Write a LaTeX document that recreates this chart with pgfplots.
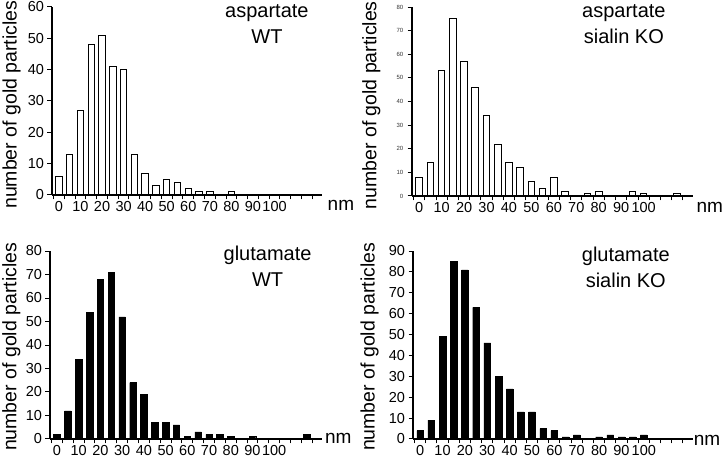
\documentclass[border=0pt]{standalone}
\usepackage{fontspec}
\setmainfont{Liberation Sans}
\usepackage{pgfplots}
\pgfplotsset{compat=1.18}
\pgfplotsset{
  histo/.style={
    scale only axis, anchor=south west,
    axis lines*=left,
    axis line style={line width=1.2pt, -},
    xmin=-3.2, xmax=122, ymin=0,
    enlargelimits=false,
    xtick={0,10,...,100},
    minor xtick={-2.5,2.5,...,117.5},
    major x tick style={draw=none},
    tick align=outside,
    major tick length=4.5pt, minor tick length=4.5pt,
    tick style={black, line width=1pt},
    /pgf/number format/assume math mode=true,
    ticklabel style={font=\fontsize{14.5}{16}\selectfont},
    xticklabel style={inner sep=0pt, yshift=-1.5pt},
    ylabel={number of gold particles},
    ylabel style={font=\fontsize{19.5}{22}\selectfont, at={(axis description cs:-0.15,0.48)}, anchor=center},
    ybar, bar width=3,
    clip=false,
  },
  openbar/.style={draw=black, fill=white, line width=1pt},
  solidbar/.style={draw=black, fill=black, line width=0.4pt},
}
\begin{document}
\begin{tikzpicture}
\useasboundingbox (0,0) rectangle (724pt,460pt);
% aspartate WT
\begin{axis}[histo, at={(52pt,265pt)}, width=270pt, height=188pt, ymax=60, ytick={0,10,...,60}]
\addplot[openbar] coordinates {(0,6) (5,13) (10,27) (15,48) (20,51) (25,41) (30,40) (35,13) (40,7) (45,3) (50,5) (55,4) (60,2) (65,1) (70,1) (80,1)};
\node[font=\fontsize{20}{26}\selectfont, align=center] at (axis description cs:0.796,0.91) {aspartate\\WT};
\node[font=\fontsize{19}{20}\selectfont] at (axis description cs:1.07,-0.053) {nm};
\end{axis}
% aspartate sialin KO
\begin{axis}[histo, at={(412pt,264pt)}, width=281pt, height=189pt, ymax=80, ytick={0,10,...,80},
  yticklabel style={font=\fontsize{6}{7}\selectfont, text=black!80, inner sep=4pt},
  ylabel style={at={(axis description cs:-0.145,0.48)}}]
\addplot[openbar] coordinates {(0,8) (5,14) (10,53) (15,75) (20,57) (25,46) (30,34) (35,22) (40,14) (45,12) (50,6) (55,3) (60,8) (65,2) (75,1) (80,2) (95,2) (100,1) (115,1)};
\node[font=\fontsize{20}{26}\selectfont, align=center] at (axis description cs:0.754,0.91) {aspartate\\sialin KO};
\node[font=\fontsize{19}{20}\selectfont] at (axis description cs:1.06,-0.058) {nm};
\end{axis}
% glutamate WT
\begin{axis}[histo, at={(50pt,21pt)}, width=272pt, height=188pt, ymax=80, ytick={0,10,...,80},
  ylabel style={at={(axis description cs:-0.142,0.49)}}]
\addplot[solidbar] coordinates {(0,2) (5,12) (10,34) (15,54) (20,68) (25,71) (30,52) (35,24) (40,19) (45,7) (50,7) (55,6) (60,1) (65,3) (70,2) (75,2) (80,1) (90,1) (115,2)};
\node[font=\fontsize{20}{26}\selectfont, align=center] at (axis description cs:0.80,0.92) {glutamate\\WT};
\node[font=\fontsize{19}{20}\selectfont] at (axis description cs:1.06,0.005) {nm};
\end{axis}
% glutamate sialin KO
\begin{axis}[histo, at={(413pt,21pt)}, width=280pt, height=188pt, ymax=90, ytick={0,10,...,90},
  ylabel style={at={(axis description cs:-0.155,0.49)}}]
\addplot[solidbar] coordinates {(0,4) (5,9) (10,49) (15,85) (20,81) (25,63) (30,46) (35,30) (40,24) (45,13) (50,13) (55,5) (60,4) (65,1) (70,2) (80,1) (85,2) (90,1) (95,1) (100,2)};
\node[font=\fontsize{20}{26}\selectfont, align=center] at (axis description cs:0.76,0.915) {glutamate\\sialin KO};
\node[font=\fontsize{19}{20}\selectfont] at (axis description cs:1.05,-0.005) {nm};
\end{axis}
\end{tikzpicture}
\end{document}
